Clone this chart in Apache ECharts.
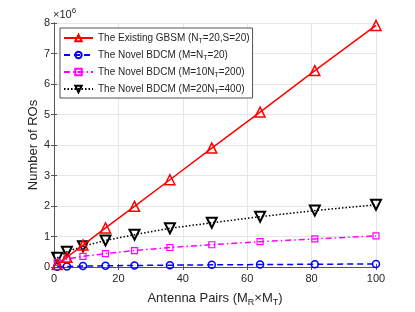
<!DOCTYPE html>
<html><head><meta charset="utf-8">
<script src="https://cdn.jsdelivr.net/npm/echarts@6/dist/echarts.min.js"></script>
<style>html,body{margin:0;padding:0;background:#fff}#c{width:415px;height:312px}</style>
</head><body><div id="c"></div>
<script>
const antennaPairs = [1, 4, 9, 16, 25, 36, 49, 64, 81, 100];
const gbsm = [0.08, 0.32, 0.72, 1.28, 1.99, 2.86, 3.9, 5.08, 6.44, 7.92];
const bdcm20 = [0.01, 0.02, 0.03, 0.04, 0.05, 0.06, 0.07, 0.08, 0.09, 0.1];
const bdcm200 = [0.15, 0.26, 0.35, 0.44, 0.54, 0.64, 0.73, 0.83, 0.92, 1.02];
const bdcm400 = [0.3, 0.5, 0.68, 0.87, 1.06, 1.27, 1.45, 1.65, 1.85, 2.04];
const xTicks = [0, 20, 40, 60, 80, 100];
const yTicks = [0, 1, 2, 3, 4, 5, 6, 7, 8];
const seriesNames = ['GBSM', 'BDCM20', 'BDCM200', 'BDCM400'];
const legendTexts = {
  GBSM: '{a|The Existing GBSM (N}{s|T}{a|=20,S=20)}',
  BDCM20: '{a|The Novel BDCM (M=N}{s|T}{a|=20)}',
  BDCM200: '{a|The Novel BDCM (M=10N}{s|T}{a|=200)}',
  BDCM400: '{a|The Novel BDCM (M=20N}{s|T}{a|=400)}'
};
const FONT = '"Liberation Sans", Arial, sans-serif';
const TXT = '#262626';
const pair = arr => antennaPairs.map((x, i) => [x, arr[i]]);
const chart = echarts.init(document.getElementById('c'), null, {renderer: 'canvas'});
const axisCommon = {
  axisLine: {show: true, lineStyle: {color: '#555', width: 1}},
  axisTick: {show: true, inside: true, length: 3, lineStyle: {color: '#555'}},
  minorTick: {show: false}
};
chart.setOption({
  animation: false,
  backgroundColor: '#fff',
  textStyle: {fontFamily: FONT},
  grid: {left: 54, right: 39, top: 23, bottom: 44, containLabel: false},
  graphic: [{
    type: 'text', left: 53, top: 7,
    style: {text: '×10{p|6}', fontFamily: FONT, fontSize: 11, fill: TXT,
      rich: {p: {fontSize: 8, fontFamily: FONT, fill: TXT, padding: [0, 0, 8, 0]}}}
  }],
  legend: {
    orient: 'vertical', left: 60, top: 28, itemGap: 5, itemWidth: 29, itemHeight: 8,
    padding: [5, 3, 2, 3],
    backgroundColor: '#fff', borderColor: '#262626', borderWidth: 0.8,
    data: seriesNames,
    formatter: n => legendTexts[n],
    textStyle: {fontFamily: FONT, fontSize: 10, color: TXT,
      rich: {a: {fontFamily: FONT, fontSize: 10, color: TXT},
             s: {fontFamily: FONT, fontSize: 7, color: TXT, padding: [7, 0, 0, 0]}}}
  },
  xAxis: [{
    type: 'value', min: 0, max: 100, interval: 20, position: 'bottom',
    name: 'Antenna Pairs (M{s|R}×M{s|T})', nameLocation: 'middle', nameGap: 22,
    nameTextStyle: {fontFamily: FONT, fontSize: 13, color: TXT,
      rich: {s: {fontFamily: FONT, fontSize: 9, color: TXT, padding: [9, 0, 0, 0]}}},
    axisLabel: {fontFamily: FONT, fontSize: 11, color: TXT, margin: 6},
    splitLine: {show: true, lineStyle: {color: '#e6e6e6', width: 1}},
    ...axisCommon
  }, {
    type: 'value', min: 0, max: 100, interval: 20, position: 'top',
    axisLabel: {show: false}, splitLine: {show: false}, ...axisCommon
  }],
  yAxis: [{
    type: 'value', min: 0, max: 8, interval: 1, position: 'left',
    name: 'Number of ROs', nameLocation: 'middle', nameGap: 14, nameMoveOverlap: false,
    nameTextStyle: {fontFamily: FONT, fontSize: 13, color: TXT},
    axisLabel: {fontFamily: FONT, fontSize: 11, color: TXT, margin: 4},
    splitLine: {show: true, lineStyle: {color: '#e6e6e6', width: 1}},
    ...axisCommon
  }, {
    type: 'value', min: 0, max: 8, interval: 1, position: 'right',
    axisLabel: {show: false}, splitLine: {show: false}, ...axisCommon
  }],
  series: [{
    name: 'GBSM', type: 'line', data: pair(gbsm), z: 5,
    symbol: 'triangle', symbolSize: 10, showAllSymbol: true,
    lineStyle: {color: '#ff0000', width: 1.5},
    itemStyle: {color: 'rgba(255,255,255,0)', borderColor: '#ff0000', borderWidth: 1.5}
  }, {
    name: 'BDCM20', type: 'line', data: pair(bdcm20), z: 4,
    symbol: 'circle', symbolSize: 7,
    lineStyle: {color: '#0000ff', width: 1.5, type: [6, 4]},
    itemStyle: {color: 'rgba(255,255,255,0)', borderColor: '#0000ff', borderWidth: 1.5}
  }, {
    name: 'BDCM200', type: 'line', data: pair(bdcm200), z: 3,
    symbol: 'rect', symbolSize: 6,
    lineStyle: {color: '#ff00ff', width: 1.5, type: [6, 3, 1.5, 3]},
    itemStyle: {color: 'rgba(255,255,255,0)', borderColor: '#ff00ff', borderWidth: 1.2}
  }, {
    name: 'BDCM400', type: 'line', data: pair(bdcm400), z: 2,
    symbol: 'triangle', symbolRotate: 180, symbolSize: 10,
    lineStyle: {color: '#000000', width: 1.5, type: [1.5, 2]},
    itemStyle: {color: 'rgba(255,255,255,0)', borderColor: '#000000', borderWidth: 2}
  }]
});
</script></body></html>
